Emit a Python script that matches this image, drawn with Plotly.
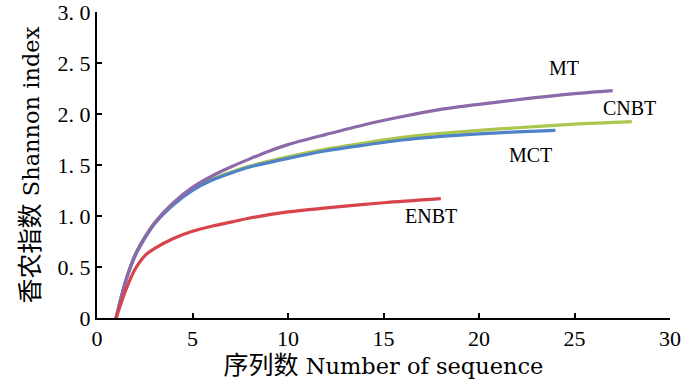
import plotly.graph_objects as go

# Data
mt_x = [1, 1.5, 2, 2.5, 3, 4, 5, 6, 7, 8, 9, 10, 12, 14, 16, 18, 20, 22, 25, 27]
mt_y = [0, 0.36, 0.62, 0.79, 0.93, 1.13, 1.28, 1.39, 1.48, 1.56, 1.635, 1.70, 1.80, 1.895, 1.975, 2.045, 2.095, 2.14, 2.20, 2.23]

cnbt_x = [1, 1.5, 2, 2.5, 3, 4, 5, 6, 7, 8, 10, 12, 14, 16, 18, 20, 22, 25, 28]
cnbt_y = [0, 0.36, 0.62, 0.79, 0.93, 1.12, 1.26, 1.36, 1.43, 1.49, 1.58, 1.655, 1.715, 1.77, 1.81, 1.84, 1.865, 1.90, 1.925]

mct_x = [1, 1.5, 2, 2.5, 3, 4, 5, 6, 7, 8, 10, 12, 14, 16, 18, 20, 22, 24]
mct_y = [0, 0.36, 0.61, 0.78, 0.92, 1.11, 1.25, 1.35, 1.42, 1.48, 1.565, 1.64, 1.695, 1.745, 1.78, 1.805, 1.825, 1.84]

enbt_x = [1, 1.5, 2, 2.5, 3, 4, 5, 6, 7, 8, 10, 12, 15, 18]
enbt_y = [0, 0.27, 0.48, 0.61, 0.68, 0.78, 0.85, 0.90, 0.94, 0.98, 1.04, 1.08, 1.13, 1.17]

y_tickvals = [0, 0.5, 1.0, 1.5, 2.0, 2.5, 3.0]
y_ticktext = ["0", "0.\u00a05", "1.\u00a00", "1.\u00a05", "2.\u00a00", "2.\u00a05", "3.\u00a00"]
x_tickvals = [0, 5, 10, 15, 20, 25, 30]

labels = ["MT", "CNBT", "MCT", "ENBT"]
label_x = [24.45, 27.9, 22.7, 17.5]
label_y = [2.45, 2.06, 1.60, 1.00]

colors = {"MT": "#8c69a9", "CNBT": "#aac64c", "MCT": "#4f82c6", "ENBT": "#d8434c"}

fig = go.Figure()
for name, xs, ys in [("CNBT", cnbt_x, cnbt_y), ("MCT", mct_x, mct_y),
                     ("MT", mt_x, mt_y), ("ENBT", enbt_x, enbt_y)]:
    fig.add_trace(go.Scatter(x=xs, y=ys, mode="lines", name=name,
                             line=dict(color=colors[name], width=3.2, shape="spline", smoothing=0.8),
                             showlegend=False))

for t, ax, ay in zip(labels, label_x, label_y):
    fig.add_annotation(x=ax, y=ay, text=t, showarrow=False,
                       font=dict(family="Liberation Serif", size=20, color="black"))

tick_font = dict(family="Liberation Serif", size=22, color="black")
title_font = dict(family="DejaVu Serif, Noto Sans CJK SC", size=22.5, color="black")
cjk = '<span style="font-family:Noto Sans CJK SC;font-size:25px">{}</span>'

fig.update_layout(
    width=700, height=381,
    margin=dict(l=97, r=30, t=12, b=63),
    paper_bgcolor="white", plot_bgcolor="white",
    xaxis=dict(range=[0, 30], tickvals=x_tickvals, showgrid=False, zeroline=False,
               showline=True, linecolor="black", linewidth=2, automargin=False,
               ticks="inside", ticklen=5, tickwidth=1.5, tickcolor="black",
               tickfont=tick_font, ticklabeloverflow="allow",
               title=dict(text=cjk.format("序列数") + " Number of sequence", font=title_font, standoff=0)),
    yaxis=dict(range=[0, 3], tickvals=y_tickvals, ticktext=y_ticktext, showgrid=False, zeroline=False,
               showline=True, linecolor="black", linewidth=2, automargin=False,
               ticks="inside", ticklen=5, tickwidth=1.5, tickcolor="black",
               tickfont=tick_font, ticklabeloverflow="allow",
               title=dict(text=cjk.format("香农指数") + " Shannon index", font=title_font, standoff=12)),
)

fig.write_html("out.html", config={"displayModeBar": False},
               post_script="document.body.style.margin='0';")
